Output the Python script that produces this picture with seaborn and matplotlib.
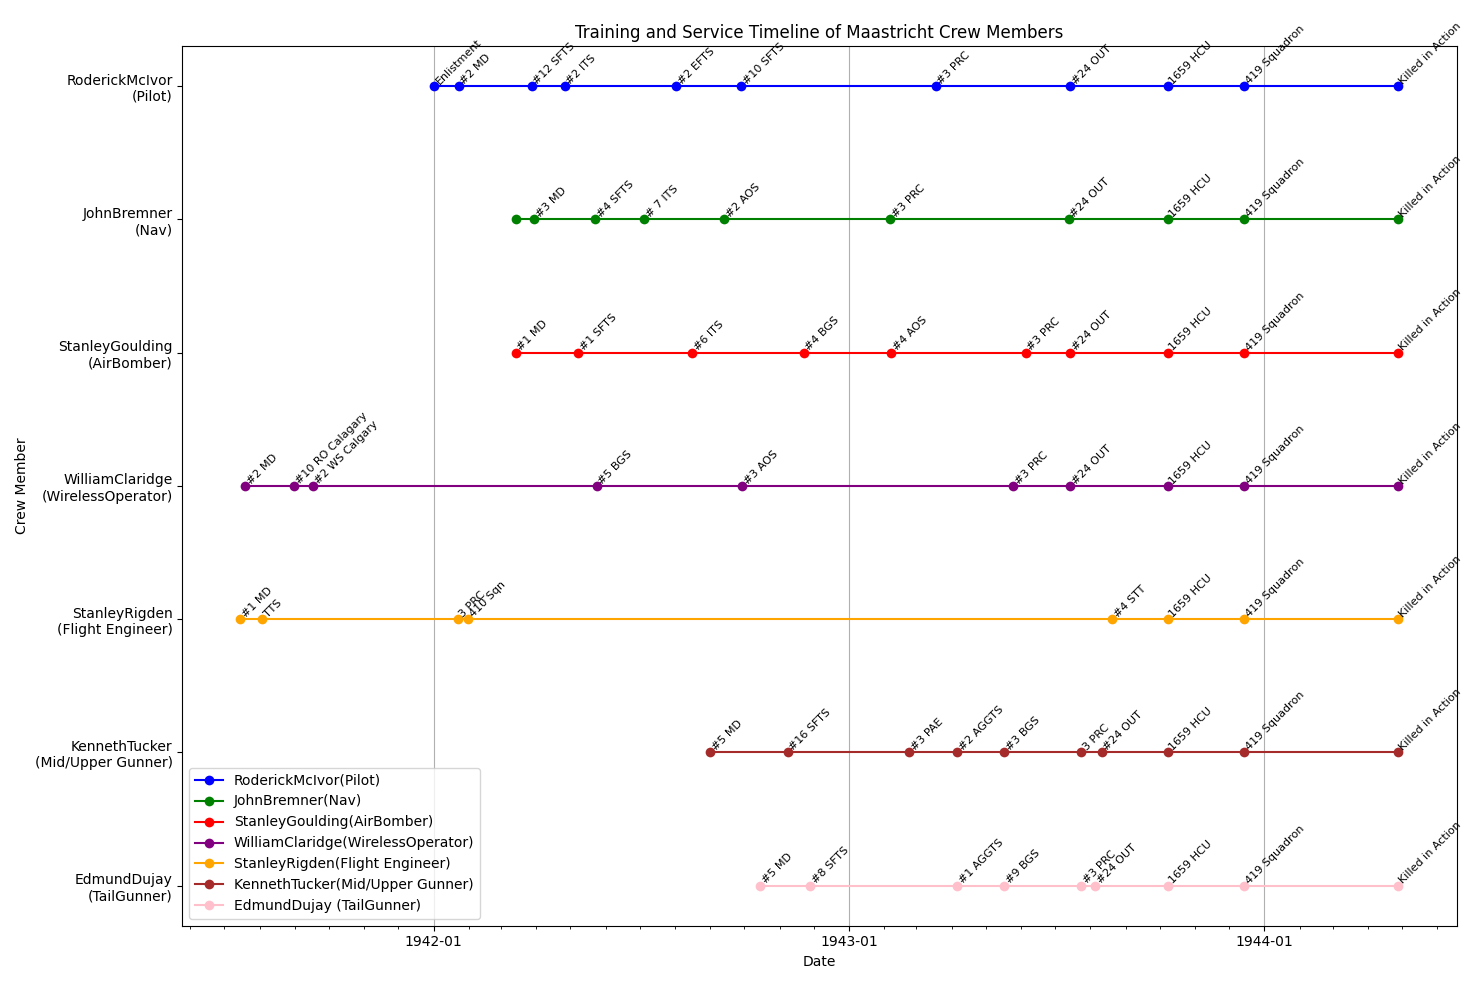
import numpy as np
import pandas as pd
import matplotlib
matplotlib.use("Agg")
import matplotlib.pyplot as plt
import matplotlib.dates as mdates
import seaborn as sns

members = ["RoderickMcIvor(Pilot)", "JohnBremner(Nav)", "StanleyGoulding(AirBomber)",
           "WilliamClaridge(WirelessOperator)", "StanleyRigden(Flight Engineer)",
           "KennethTucker(Mid/Upper Gunner)", "EdmundDujay (TailGunner)"]
tick_labels = ["RoderickMcIvor\n(Pilot)", "JohnBremner\n(Nav)", "StanleyGoulding\n(AirBomber)",
               "WilliamClaridge\n(WirelessOperator)", "StanleyRigden\n(Flight Engineer)",
               "KennethTucker\n(Mid/Upper Gunner)", "EdmundDujay\n(TailGunner)"]
colors = ["blue", "green", "red", "purple", "orange", "brown", "pink"]

tail = ["1943-10-08", "1943-12-14", "1944-04-27"]
tail_events = ["1659 HCU", "419 Squadron", "Killed in Action"]

pilot_dates = ["1942-01-01", "1942-01-23", "1942-03-28", "1942-04-26", "1942-08-02",
               "1942-09-28", "1943-03-18", "1943-07-14"] + tail
pilot_events = ["Enlistment", "#2 MD", "#12 SFTS", "#2 ITS", "#2 EFTS", "#10 SFTS",
                "#3 PRC", "#24 OUT"] + tail_events

nav_dates = ["1942-03-14", "1942-03-30", "1942-05-23", "1942-07-05", "1942-09-13",
             "1943-02-06", "1943-07-13"] + tail
nav_events = ["", "#3 MD", "#4 SFTS", "# 7 ITS", "#2 AOS", "#3 PRC", "#24 OUT"] + tail_events

bomber_dates = ["1942-03-14", "1942-05-08", "1942-08-16", "1942-11-22", "1943-02-07",
                "1943-06-05", "1943-07-14"] + tail
bomber_events = ["#1 MD", "#1 SFTS", "#6 ITS", "#4 BGS", "#4 AOS", "#3 PRC", "#24 OUT"] + tail_events

wireless_dates = ["1941-07-19", "1941-08-31", "1941-09-17", "1942-05-24", "1942-09-29",
                  "1943-05-25", "1943-07-14"] + tail
wireless_events = ["#2 MD", "#10 RO Calagary", "#2 WS Calgary", "#5 BGS", "#3 AOS",
                   "#3 PRC", "#24 OUT"] + tail_events

engineer_dates = ["1941-07-15", "1941-08-03", "1942-01-22", "1942-01-31", "1943-08-20"] + tail
engineer_events = ["#1 MD", "TTS", "3 PRC", "410 Sqn", "#4 STT"] + tail_events

tucker_dates = ["1942-09-01", "1942-11-08", "1943-02-23", "1943-04-06", "1943-05-17",
                "1943-07-24", "1943-08-11"] + tail
tucker_events = ["#5 MD", "#16 SFTS", "#3 PAE", "#2 AGGTS", "#3 BGS", "3 PRC", "#24 OUT"] + tail_events

dujay_dates = ["1942-10-15", "1942-11-28", "1943-04-06", "1943-05-17", "1943-07-24",
               "1943-08-05"] + tail
dujay_events = ["#5 MD", "#8 SFTS", "#1 AGGTS", "#9 BGS", "#3 PRC", "#24 OUT"] + tail_events

all_dates = [pilot_dates, nav_dates, bomber_dates, wireless_dates, engineer_dates, tucker_dates, dujay_dates]
all_events = [pilot_events, nav_events, bomber_events, wireless_events, engineer_events, tucker_events, dujay_events]

fig, ax = plt.subplots(figsize=(14.84, 9.84), dpi=100)
n = len(members)
for i, name in enumerate(members):
    df = pd.DataFrame({"date": pd.to_datetime(all_dates[i]), "y": n - 1 - i})
    sns.lineplot(data=df, x="date", y="y", marker="o", markersize=7, markeredgewidth=0,
                 color=colors[i], label=name, ax=ax, sort=False)
    for d, ev in zip(df["date"], all_events[i]):
        ax.text(d, n - 1 - i, ev, rotation=45, fontsize=8, ha="left", va="bottom")

ax.set_yticks(range(n))
ax.set_yticklabels(tick_labels[::-1])
ax.set_ylim(-0.3, n - 0.7)
ax.set_xlim(pd.Timestamp("1941-05-25"), pd.Timestamp("1944-06-18"))
ax.xaxis.set_major_locator(mdates.YearLocator())
ax.xaxis.set_major_formatter(mdates.DateFormatter("%Y-%m"))
ax.xaxis.set_minor_locator(mdates.MonthLocator())
ax.grid(True, axis="x", which="major")
ax.set_xlabel("Date")
ax.set_ylabel("Crew Member")
ax.set_title("Training and Service Timeline of Maastricht Crew Members")
ax.legend(loc="lower left")
plt.tight_layout()
plt.savefig("out.png")
